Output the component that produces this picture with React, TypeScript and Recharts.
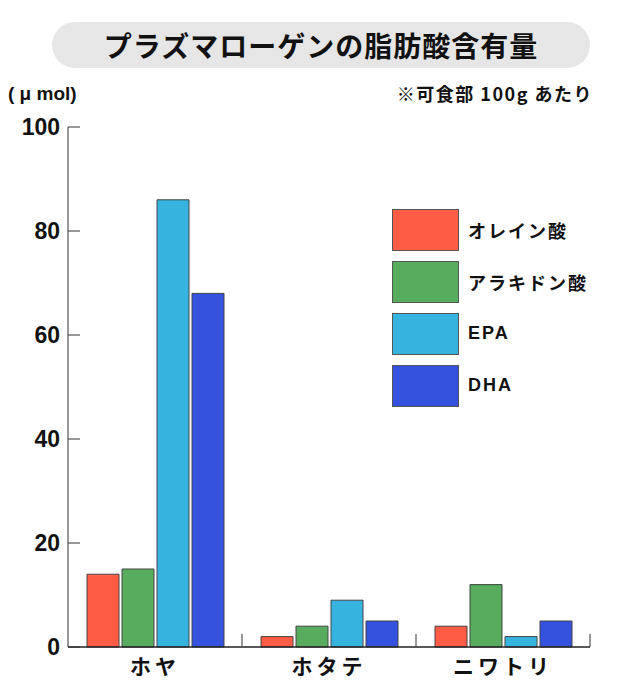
import { Bar, BarChart, Legend, XAxis, YAxis } from 'recharts';

const categories = ['ホヤ', 'ホタテ', 'ニワトリ'];
const oleic = [14, 2, 4];
const arachidonic = [15, 4, 12];
const epa = [86, 9, 2];
const dha = [68, 5, 5];
const seriesNames = ['オレイン酸', 'アラキドン酸', 'EPA', 'DHA'];
const seriesColors = ['#ff5c45', '#57ac5d', '#36b4df', '#3552de'];
const yTicks = [0, 20, 40, 60, 80, 100];

const data = categories.map((name, i) => ({
  name,
  oleic: oleic[i],
  arachidonic: arachidonic[i],
  epa: epa[i],
  dha: dha[i],
}));

const JP = '"Noto Sans CJK JP", "Noto Sans", sans-serif';
const NUM = '"Liberation Sans", Arial, sans-serif';
const BAND = 522 / categories.length;

function YTick(props: any) {
  const { x, y, payload } = props;
  return (
    <g>
      <line x1={x + 8} x2={x + 20} y1={y} y2={y} stroke="#333" strokeWidth={1} />
      <text x={x} y={y} dy={8} textAnchor="end" fontFamily={NUM} fontWeight={700} fontSize={23} fill="#111">
        {payload.value}
      </text>
    </g>
  );
}

function XTick(props: any) {
  const { x, y, payload } = props;
  return (
    <g>
      <line x1={x + BAND / 2} x2={x + BAND / 2} y1={y} y2={y - 13} stroke="#555" strokeWidth={1.2} />
      <text x={x} y={y} dy={27} textAnchor="middle" fontFamily={JP} fontWeight={700} fontSize={21} letterSpacing={4} fill="#111">
        {payload.value}
      </text>
    </g>
  );
}

function LegendBox(props: any) {
  const items = [...(props.payload || [])].sort(
    (a: any, b: any) => seriesNames.indexOf(a.value) - seriesNames.indexOf(b.value),
  );
  return (
    <div>
      {items.map((item: any) => (
        <div key={item.value} style={{ display: 'flex', alignItems: 'center', height: 41, marginBottom: 11 }}>
          <div style={{ width: 65, height: 40, background: item.color, border: '1px solid #555' }} />
          <span style={{ marginLeft: 9, fontFamily: item.value.match(/^[A-Z]+$/) ? NUM : JP, fontWeight: 700, fontSize: 18, letterSpacing: 2, color: '#111' }}>
            {item.value}
          </span>
        </div>
      ))}
    </div>
  );
}

export default function App() {
  const keys = ['oleic', 'arachidonic', 'epa', 'dha'];
  return (
    <div style={{ position: 'absolute', left: 0, top: 0, width: 640, height: 699, background: '#fff' }}>
      <div
        style={{
          position: 'absolute', left: 52, top: 22, width: 538, height: 46, borderRadius: 23,
          background: '#e6e6e6', display: 'flex', alignItems: 'center', justifyContent: 'center',
          fontFamily: JP, fontWeight: 700, fontSize: 28, letterSpacing: 1, color: '#111',
        }}
      >
        プラズマローゲンの脂肪酸含有量
      </div>
      <div style={{ position: 'absolute', left: 8, top: 83, fontFamily: NUM, fontWeight: 700, fontSize: 19, color: '#111', whiteSpace: 'pre' }}>
        ( μ mol)
      </div>
      <div style={{ position: 'absolute', right: 47, top: 80, fontFamily: JP, fontWeight: 700, fontSize: 18, letterSpacing: 1.5, color: '#111' }}>
        ※可食部 100g あたり
      </div>
      <BarChart
        width={640}
        height={699}
        data={data}
        margin={{ top: 127, right: 50, bottom: 0, left: 0 }}
        barCategoryGap={19}
        barGap={3}
      >
        <XAxis
          dataKey="name"
          height={52}
          tickLine={false}
          tickSize={0}
          tickMargin={0}
          axisLine={{ stroke: '#222', strokeWidth: 1.5 }}
          tick={<XTick />}
          interval={0}
        />
        <YAxis
          width={68}
          domain={[0, 100]}
          ticks={yTicks}
          tickLine={false}
          tickSize={0}
          tickMargin={8}
          axisLine={{ stroke: '#333', strokeWidth: 1 }}
          tick={<YTick />}
        />
        <Legend
          layout="vertical"
          align="center"
          verticalAlign="middle"
          content={<LegendBox />}
          wrapperStyle={{ position: 'absolute', left: 392, top: 209, width: 'auto' }}
        />
        {keys.map((k, i) => (
          <Bar
            key={k}
            dataKey={k}
            name={seriesNames[i]}
            fill={seriesColors[i]}
            stroke="#444"
            strokeWidth={1}
            isAnimationActive={false}
          />
        ))}
      </BarChart>
    </div>
  );
}
